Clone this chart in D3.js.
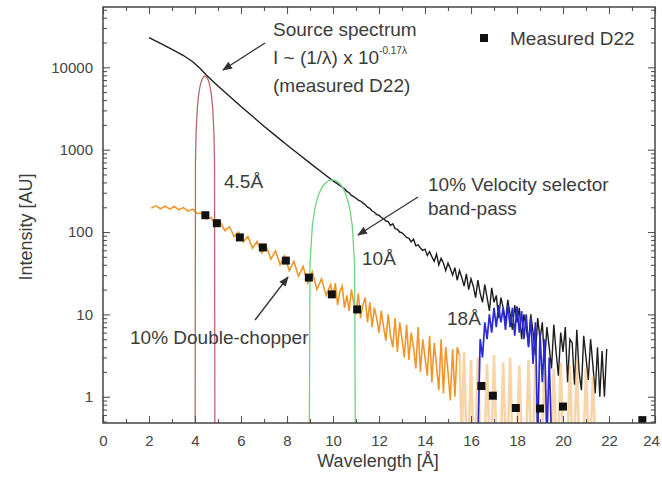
<!DOCTYPE html>
<html>
<head>
<meta charset="utf-8">
<script src="https://cdn.jsdelivr.net/npm/d3@7"></script>
<style>
body{margin:0;background:#fff;}
svg{display:block;font-family:"Liberation Sans",Arial,sans-serif;}
.axis text{font-size:15px;fill:#444;}
.axis line{stroke:#555;stroke-width:1.1;}
.axis path{display:none;}
.note{font-size:19px;fill:#3c3c3c;}
</style>
</head>
<body>
<svg id="chart" width="662" height="481"></svg>
<script>
// source spectrum, smooth part [wavelength, intensity]
var srcSmooth = [[2.0,23000],[2.5,19500],[3.0,16500],[3.5,13900],[3.9,11700],[4.2,9800],[4.5,8000],
  [5.0,5920],[5.5,4450],[6.0,3340],[6.5,2540],[7.0,1930],[7.5,1480],[8.0,1140],[8.5,885],[9.0,687],
  [9.5,535],[10.0,418],[10.2,385],[10.4,350],[10.5,335],[10.6,312],[10.7,300],[10.8,278],[10.9,270]]

// source spectrum, noisy part, sampled every 0.1 A from 11.0
var srcNoisyStart = 11.0
var srcNoisy = [257,244,238,226,214,200,194,180,174,163,
  160,150,146,136,134,120,126,110,108,100,
  98,92,86,84,76,82,68,70,64,60,
  62,52,58,50,44,54,40,48,42,34,
  42,36,30,37,26,34,28,22,31,20,
  27,22,16,26,18,14,23,16,11,21,
  14,17,9,16,12,8,15,10,6.5,13,
  8,12,5,10,7,4.2,10,6,3.2,9,
  5,8,2.6,7,4,2.2,7.5,3.5,1.8,6,
  3.5,7,1.5,5,4.5,1.4,6.5,2,1.2,5.5,
  3,1.6,5,2.4,1.1,4,1.0,3.6,1.0,3.8]

// double-chopper spectrum: every 0.2 A from 2.1, then every 0.1 A from 10.0
var chopStartA = 2.1
var chopA = [196,208,192,206,190,204,186,198,180,190,
  168,170,145,150,122,132,104,116,88,100,
  76,88,64,77,56,67,47,59,40,51,
  34,44,29,38,24,33,20,27,17,23]
var chopStartB = 10.0
var chopB = [16,24,13,19,22,12,17,11,20,14,
  10,18,9,13,16,8,14,7,12,9,
  6,11,7,4.8,10,5.5,4,9,3.5,8,
  5,3,7.5,2.8,6,4,2.2,7,2,5,
  3,1.8,5.5,1.5,4.5,2.4,1.2,5,1.1,4,
  2,0.9,3.8,1.0,4,3.2]
var chopStartTail = 15.5
var chopTail = [3.2,0.3,3.5,0.3,0.3,
  2.8,0.3,0.3,3,0.3,0.3,0.3,2.5,0.3,0.3,
  3.2,0.3,0.3,0.3,2.6,0.3,0.3,3,0.3,0.3,
  0.3,2.4,0.3,0.3,0.3,2.8,0.3,0.3,2.5,0.3,
  0.3,0.3,3,0.3,0.3,0.3,2.2,0.3,0.3,2.6,
  0.3,0.3,0.3,2.4,0.3,0.3,2.8,0.3,0.3,0.3,
  2.2,0.3,0.3,1.8,0.3,0.3]

// velocity selector band-passes
var band45 = [[4.0,0.01],[4.02,700],[4.05,1690],[4.1,3170],[4.15,4450],[4.2,5520],[4.25,6390],[4.3,7050],
  [4.35,7500],[4.4,7750],[4.435,7800],[4.47,7750],[4.52,7500],[4.57,7050],[4.62,6390],[4.67,5520],
  [4.72,4450],[4.77,3170],[4.82,1690],[4.85,700],[4.87,0.01]]
var band10 = [[8.95,0.01],[9.0,41],[9.1,117],[9.2,185],[9.3,244],[9.4,296],[9.5,339],[9.6,373],[9.7,400],
  [9.8,418],[9.9,428],[9.97,430],[10.04,428],[10.14,418],[10.24,400],[10.34,373],[10.44,339],[10.54,296],
  [10.64,244],[10.74,185],[10.84,117],[10.94,41],[10.99,0.01]]
var band18Start = 16.2
var band18 = [0.3,0.3,5,3,8,5,10,6,12,7,13,8,12,6.5,13,7,12,5.5,12.5,6,11,5,10,4,9,2.5,8,0.3,6,1.5,5,0.3,3,0.3,0.3]

// measured D22 points
var measured = [[4.45,160],[4.95,128],[5.95,86],[6.95,65],[7.95,45],[8.95,28],[9.95,17.5],[11.05,11.5],
  [16.45,1.35],[16.95,1.03],[17.95,0.73],[19.0,0.72],[20.0,0.76],[23.45,0.52]]

var xMajorTicks = [0,2,4,6,8,10,12,14,16,18,20,22,24]
var xMinorTicks = [1,3,5,7,9,11,13,15,17,19,21,23]
var yMajorTicks = [1,10,100,1000,10000]
var yMinorTicks = [0.5,0.6,0.7,0.8,0.9,2,3,4,5,6,7,8,9,20,30,40,50,60,70,80,90,
  200,300,400,500,600,700,800,900,2000,3000,4000,5000,6000,7000,8000,9000,20000,30000,40000,50000]

var sampled = function(start, step, values){
  return values.map(function(v,i){ return [start+i*step, v] })
}

var svg = d3.select("#chart")

var x = d3.scaleLinear().domain([0,24]).range([103,655])
var y = d3.scaleLog().domain([0.48,54000]).range([423,7])

var defs = svg.append("defs")
defs.append("clipPath").attr("id","plotclip")
  .append("rect").attr("x",103).attr("y",7).attr("width",552).attr("height",416)

defs.append("marker").attr("id","arrow")
  .attr("viewBox","0 0 10 8").attr("refX",9).attr("refY",4)
  .attr("markerWidth",10).attr("markerHeight",8).attr("markerUnits","userSpaceOnUse")
  .attr("orient","auto")
  .append("path").attr("d","M0,0L10,4L0,8z").attr("fill","#333")

var line = d3.line().x(function(d){return x(d[0])}).y(function(d){return y(d[1])})

var plot = svg.append("g").attr("clip-path","url(#plotclip)")

var source = srcSmooth.concat(sampled(srcNoisyStart, 0.1, srcNoisy))
var chopper = sampled(chopStartA, 0.2, chopA).concat(sampled(chopStartB, 0.1, chopB))

plot.append("path").datum(source).attr("d",line)
  .attr("fill","none").attr("stroke","#1e1e1e").attr("stroke-width",1.4)

plot.append("path").datum(chopper).attr("d",line)
  .attr("fill","none").attr("stroke","#f0962a").attr("stroke-width",1.6)

plot.append("path").datum(sampled(chopStartTail, 0.1, chopTail)).attr("d",line)
  .attr("fill","none").attr("stroke","#f0a040").attr("stroke-width",2.6).attr("stroke-opacity",0.45)

plot.append("path").datum(band45).attr("d",line)
  .attr("fill","none").attr("stroke","#b86a6a").attr("stroke-width",1.3)

plot.append("path").datum(band10).attr("d",line)
  .attr("fill","none").attr("stroke","#70d47e").attr("stroke-width",1.3)

plot.append("path").datum(sampled(band18Start, 0.1, band18)).attr("d",line)
  .attr("fill","none").attr("stroke","#2b2bd6").attr("stroke-width",1.7)

plot.selectAll("rect.meas").data(measured).enter().append("rect")
  .attr("class","meas")
  .attr("x",function(d){return x(d[0])-4}).attr("y",function(d){return y(d[1])-4})
  .attr("width",8).attr("height",8).attr("fill","#111")

/*
  Axes, ticks on all four sides pointing inwards
*/
var bottomAxis = svg.append("g").attr("class","axis").attr("transform","translate(0,423)")
  .call(d3.axisBottom(x).tickValues(xMajorTicks).tickSizeInner(-7).tickSizeOuter(0).tickPadding(12))
// last label sits on the page edge
bottomAxis.selectAll(".tick text").filter(function(d){return d===24}).attr("dx",-4)

svg.append("g").attr("class","axis").attr("transform","translate(0,423)")
  .call(d3.axisBottom(x).tickValues(xMinorTicks).tickSizeInner(-4).tickSizeOuter(0).tickFormat(""))
svg.append("g").attr("class","axis").attr("transform","translate(0,7)")
  .call(d3.axisTop(x).tickValues(xMajorTicks).tickSizeInner(-7).tickSizeOuter(0).tickFormat(""))
svg.append("g").attr("class","axis").attr("transform","translate(0,7)")
  .call(d3.axisTop(x).tickValues(xMinorTicks).tickSizeInner(-4).tickSizeOuter(0).tickFormat(""))

svg.append("g").attr("class","axis").attr("transform","translate(103,0)")
  .call(d3.axisLeft(y).tickValues(yMajorTicks).tickFormat(d3.format("d")).tickSizeInner(-7).tickSizeOuter(0).tickPadding(10))
svg.append("g").attr("class","axis").attr("transform","translate(103,0)")
  .call(d3.axisLeft(y).tickValues(yMinorTicks).tickFormat("").tickSizeInner(-4).tickSizeOuter(0))
svg.append("g").attr("class","axis").attr("transform","translate(655,0)")
  .call(d3.axisRight(y).tickValues(yMajorTicks).tickFormat("").tickSizeInner(-7).tickSizeOuter(0))
svg.append("g").attr("class","axis").attr("transform","translate(655,0)")
  .call(d3.axisRight(y).tickValues(yMinorTicks).tickFormat("").tickSizeInner(-4).tickSizeOuter(0))

svg.append("rect").attr("x",103).attr("y",7).attr("width",552).attr("height",416)
  .attr("fill","none").attr("stroke","#444").attr("stroke-width",1.5)

svg.append("text").attr("class","note").attr("transform","translate(32,227) rotate(-90)")
  .attr("text-anchor","middle").style("font-size","18px").text("Intensity [AU]")
svg.append("text").attr("class","note").attr("x",378).attr("y",467)
  .attr("text-anchor","middle").style("font-size","18px").text("Wavelength [Å]")

/*
  Legend and annotations
*/
svg.append("rect").attr("x",480).attr("y",34).attr("width",8).attr("height",8).attr("fill","#111")
svg.append("text").attr("class","note").attr("x",510).attr("y",45).text("Measured D22")

svg.append("text").attr("class","note").attr("x",273).attr("y",36).text("Source spectrum")
var formula = svg.append("text").attr("class","note").attr("x",273).attr("y",64)
formula.append("tspan").text("I ~ (1/λ) x 10")
formula.append("tspan").attr("dy",-10).style("font-size","10px").text("-0.17λ")
svg.append("text").attr("class","note").attr("x",273).attr("y",92).text("(measured D22)")

svg.append("text").attr("class","note").attr("x",224).attr("y",188).text("4.5Å")
svg.append("text").attr("class","note").attr("x",362).attr("y",265).text("10Å")
svg.append("text").attr("class","note").attr("x",447).attr("y",325).text("18Å")

svg.append("text").attr("class","note").attr("x",428).attr("y",191).text("10% Velocity selector")
svg.append("text").attr("class","note").attr("x",428).attr("y",215).text("band-pass")
svg.append("text").attr("class","note").attr("x",130).attr("y",344).text("10% Double-chopper")

var arrows = [[265,43,223,70],[418,197,358,235],[255,320,288,277]]
svg.selectAll("line.arrow").data(arrows).enter().append("line")
  .attr("class","arrow")
  .attr("x1",function(d){return d[0]}).attr("y1",function(d){return d[1]})
  .attr("x2",function(d){return d[2]}).attr("y2",function(d){return d[3]})
  .attr("stroke","#333").attr("stroke-width",1.3).attr("marker-end","url(#arrow)")
</script>
</body>
</html>
